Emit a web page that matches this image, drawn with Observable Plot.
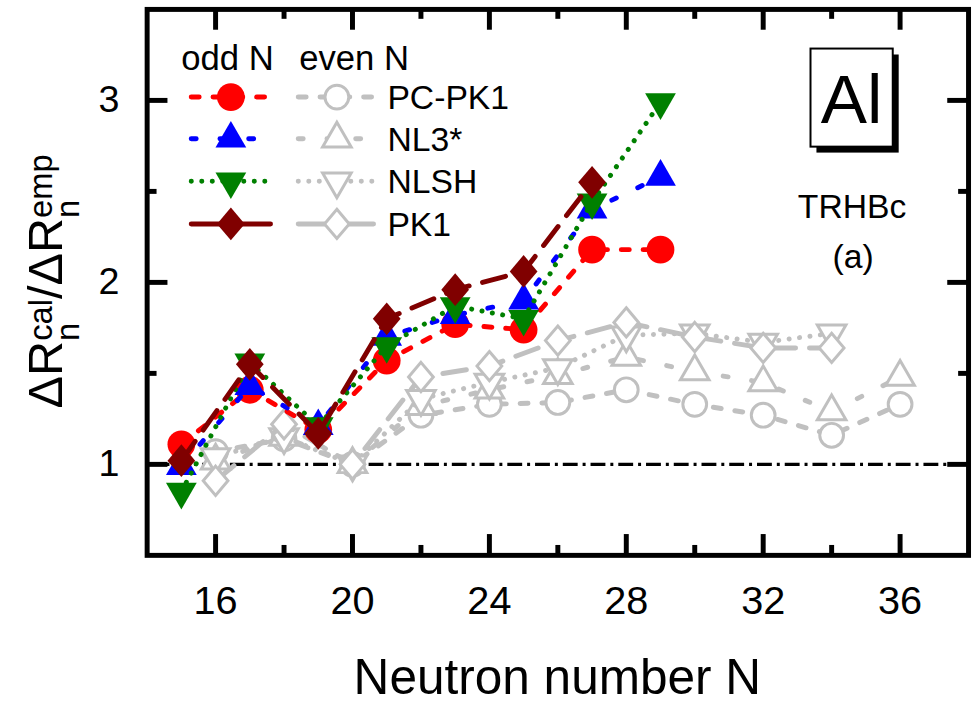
<!DOCTYPE html>
<html><head><meta charset="utf-8">
<script src="https://cdn.jsdelivr.net/npm/d3@7"></script>
<script src="https://cdn.jsdelivr.net/npm/@observablehq/plot@0.6"></script>
<style>
html,body{margin:0;padding:0;background:#fff;overflow:hidden;width:973px;height:709px;}
#chart{position:relative;width:973px;height:709px;overflow:hidden;}
#chart svg{display:block;}
</style></head><body><div id="chart"></div>
<script>
// ---------- data ----------
const oddN  = [15, 17, 19, 21, 23, 25, 27, 29];
const evenN = [16, 18, 20, 22, 24, 26, 28, 30, 32, 34, 36];

const pcpk1Odd = [1.11, 1.41, 1.19, 1.57, 1.77, 1.74, 2.18, 2.18];
const nl3Odd   = [0.99, 1.43, 1.21, 1.70, 1.82, 1.90, 2.40, 2.58];
const nlshOdd  = [0.85, 1.56, 1.21, 1.65, 1.87, 1.80, 2.44, 2.99];
const pk1Odd   = [1.02, 1.55, 1.17, 1.80, 1.96, 2.06, 2.55];

const pcpk1Even = [1.07, 1.14, 1.00, 1.27, 1.33, 1.34, 1.41, 1.33, 1.27, 1.16, 1.33];
const nl3Even   = [1.02, 1.15, 1.00, 1.32, 1.41, 1.49, 1.59, 1.51, 1.45, 1.29, 1.48];
const nlshEven  = [1.04, 1.15, 1.00, 1.36, 1.45, 1.53, 1.71, 1.72, 1.67, 1.72];
const pk1Even   = [0.91, 1.22, 1.00, 1.48, 1.54, 1.68, 1.78, 1.70, 1.64, 1.64];

const modelNames = ["PC-PK1", "NL3*", "NLSH", "PK1"];
const xMajor = [16, 20, 24, 28, 32, 36];
const xMinor = [18, 22, 26, 30, 34];
const yMajor = [1, 2, 3];
const yMinor = [1.5, 2.5];

// ---------- styles ----------
const FONT = "'Liberation Sans', Arial, Helvetica, sans-serif";
const GREY = "#c0c0c0";
const S3 = Math.sqrt(3);
const triUp = {draw(ctx, size){const r=Math.sqrt(size/Math.PI), a=2.7*r, h=a*S3/2;
  ctx.moveTo(0,-2*h/3); ctx.lineTo(a/2,h/3); ctx.lineTo(-a/2,h/3); ctx.closePath();}};
const triDown = {draw(ctx, size){const r=Math.sqrt(size/Math.PI), a=2.7*r, h=a*S3/2;
  ctx.moveTo(0,2*h/3); ctx.lineTo(a/2,-h/3); ctx.lineTo(-a/2,-h/3); ctx.closePath();}};
const diamond = {draw(ctx, size){const r=Math.sqrt(size/Math.PI), hh=1.18*r;
  ctx.moveTo(0,-hh); ctx.lineTo(r,0); ctx.lineTo(0,hh); ctx.lineTo(-r,0); ctx.closePath();}};
const circle = {draw(ctx, size){const r=Math.sqrt(size/Math.PI); ctx.moveTo(r,0); ctx.arc(0,0,r,0,2*Math.PI);}};

const dashes = ["8,14", "5,24", "0.1,10.5", "24,14"];
const symbols = [circle, triUp, triDown, diamond];
const filledR = [14, 11.5, 11.5, 14];
const openR = [12, 10.7, 10.7, 12.5];
const colors = ["#ff0000", "#0000ff", "#008000", "#800000"];

const oddVals = [pcpk1Odd, nl3Odd, nlshOdd, pk1Odd];
const evenVals = [pcpk1Even, nl3Even, nlshEven, pk1Even];
const toRows = (Ns, vals) => vals.map((v, i) => ({N: Ns[i], v}));

const W = 982, H = 709, mL = 148, mR = 5, mT = 9, mB = 149;
const plotH = H - mT - mB, plotW = W - mL - mR;

const marks = [];
marks.push(Plot.ruleY([1], {stroke: "black", strokeWidth: 3.5, strokeDasharray: "15,5,3,5"}));
evenVals.forEach((vals, k) => {
  const rows = toRows(evenN, vals);
  marks.push(Plot.line(rows, {x: "N", y: "v", stroke: GREY, strokeWidth: 5, strokeDasharray: dashes[k], strokeLinecap: "round"}));
  marks.push(Plot.dot(rows, {x: "N", y: "v", r: openR[k], symbol: symbols[k], fill: "white", stroke: GREY, strokeWidth: 3}));
});
oddVals.forEach((vals, k) => {
  const rows = toRows(oddN, vals);
  marks.push(Plot.line(rows, {x: "N", y: "v", stroke: colors[k], strokeWidth: 5, strokeDasharray: dashes[k], strokeLinecap: "round"}));
  marks.push(Plot.dot(rows, {x: "N", y: "v", r: filledR[k], symbol: symbols[k], fill: colors[k], stroke: "none"}));
});
// inward ticks on all four sides
marks.push(
  Plot.tickX(xMajor, {x: d => d, insetTop: plotH - 21, stroke: "black", strokeWidth: 5}),
  Plot.tickX(xMinor, {x: d => d, insetTop: plotH - 10, stroke: "black", strokeWidth: 5}),
  Plot.tickX(xMajor, {x: d => d, insetBottom: plotH - 21, stroke: "black", strokeWidth: 5}),
  Plot.tickX(xMinor, {x: d => d, insetBottom: plotH - 10, stroke: "black", strokeWidth: 5}),
  Plot.tickY(yMajor, {y: d => d, insetRight: plotW - 21, stroke: "black", strokeWidth: 5}),
  Plot.tickY(yMinor, {y: d => d, insetRight: plotW - 10, stroke: "black", strokeWidth: 5}),
  Plot.tickY(yMajor, {y: d => d, insetLeft: plotW - 21, stroke: "black", strokeWidth: 5}),
  Plot.tickY(yMinor, {y: d => d, insetLeft: plotW - 10, stroke: "black", strokeWidth: 5}),
  Plot.frame({stroke: "black", strokeWidth: 5}),
  Plot.axisX(xMajor, {tickSize: 0, tickPadding: 31, fontSize: 40, label: null, tickFormat: d3.format("d")}),
  Plot.axisY(yMajor, {tickSize: 0, tickPadding: 28, fontSize: 38, label: null, tickFormat: d3.format("d")})
);

const svgEl = Plot.plot({
  width: W, height: H, marginLeft: mL, marginRight: mR, marginTop: mT, marginBottom: mB,
  x: {domain: [14, 38]},
  y: {domain: [0.5, 3.5]},
  style: {fontFamily: FONT, background: "white", color: "black"},
  marks
});
document.getElementById("chart").appendChild(svgEl);

// ---------- annotations ----------
const svg = d3.select(svgEl);
const g = svg.append("g").attr("font-family", FONT).attr("fill", "black").attr("text-anchor", "start");

// x axis title
g.append("text").attr("x", mL + plotW / 2).attr("y", 700).attr("text-anchor", "middle")
  .attr("font-size", 50).text("Neutron number N");

// y axis title  ΔR_n^cal / ΔR_n^emp
const yt = g.append("text").attr("transform", "translate(63,284) rotate(-90)")
  .attr("text-anchor", "middle").attr("font-size", 49);
yt.append("tspan").text("ΔR");
yt.append("tspan").attr("font-size", 33).attr("dy", 17).text("n");
yt.append("tspan").attr("font-size", 33).attr("dx", -18.3).attr("dy", -28).text("cal");
yt.append("tspan").attr("dy", 11).text("/ΔR");
yt.append("tspan").attr("font-size", 33).attr("dy", 17).text("n");
yt.append("tspan").attr("font-size", 33).attr("dx", -18.3).attr("dy", -28).text("emp");

// Al box
g.append("rect").attr("x", 824).attr("y", 55).attr("width", 83).attr("height", 99).attr("fill", "black");
g.append("rect").attr("x", 818).attr("y", 49).attr("width", 83).attr("height", 99).attr("fill", "white")
  .attr("stroke", "black").attr("stroke-width", 2);
g.append("text").attr("x", 859.5).attr("y", 124).attr("text-anchor", "middle").attr("font-size", 70).text("Al");
g.append("text").attr("x", 860).attr("y", 220).attr("text-anchor", "middle").attr("font-size", 34).text("TRHBc");
g.append("text").attr("x", 861).attr("y", 270).attr("text-anchor", "middle").attr("font-size", 34).text("(a)");

// legend
const lg = g.append("g").attr("text-anchor", "start");
lg.append("text").attr("x", 183).attr("y", 71).attr("font-size", 35).text("odd N");
lg.append("text").attr("x", 302).attr("y", 71).attr("font-size", 35).text("even N");
const rowY = [98, 140, 183, 226];
modelNames.forEach((name, k) => {
  const y = rowY[k];
  const dash = k === 3 ? null : dashes[k];
  // odd sample
  lg.append("line").attr("x1", 193).attr("x2", 273).attr("y1", y).attr("y2", y)
    .attr("stroke", colors[k]).attr("stroke-width", 5).attr("stroke-linecap", "round").attr("stroke-dasharray", dash);
  lg.append("path").attr("transform", `translate(233,${y})`)
    .attr("d", d3.symbol(symbols[k], Math.PI * filledR[k] ** 2)()).attr("fill", colors[k]);
  // even sample
  lg.append("line").attr("x1", 301).attr("x2", 377).attr("y1", y).attr("y2", y)
    .attr("stroke", GREY).attr("stroke-width", 5).attr("stroke-linecap", "round").attr("stroke-dasharray", dash);
  lg.append("path").attr("transform", `translate(340,${y})`)
    .attr("d", d3.symbol(symbols[k], Math.PI * openR[k] ** 2)()).attr("fill", "white")
    .attr("stroke", GREY).attr("stroke-width", 3);
  lg.append("text").attr("x", 391).attr("y", y + 12).attr("font-size", 34).text(name);
});
</script>
</body></html>
